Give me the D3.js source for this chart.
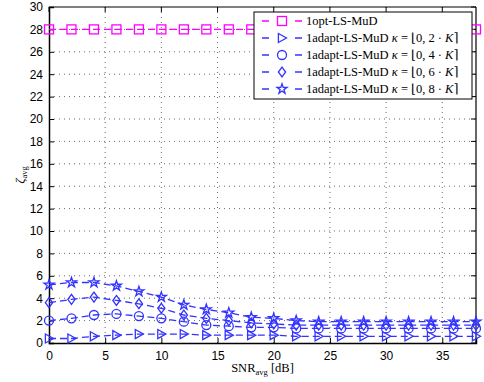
<!DOCTYPE html>
<html>
<head>
<meta charset="utf-8">
<script src="https://cdn.jsdelivr.net/npm/d3@7"></script>
<style>
  body { margin: 0; background: #fff; }
  svg text { font-family: "Liberation Sans", Arial, sans-serif; }
  .serif { font-family: "Liberation Serif", "DejaVu Serif", serif; }
</style>
</head>
<body>
<div id="chart"></div>
<script>
const snr = [0, 2, 4, 6, 8, 10, 12, 14, 16, 18, 20, 22, 24, 26, 28, 30, 32, 34, 36, 38];

const optValues = [28, 28, 28, 28, 28, 28, 28, 28, 28, 28, 28, 28, 28, 28, 28, 28, 28, 28, 28, 28];
const adapt02 = [0.4, 0.4, 0.6, 0.7, 0.8, 0.8, 0.8, 0.7, 0.7, 0.7, 0.7, 0.6, 0.6, 0.6, 0.6, 0.6, 0.6, 0.6, 0.6, 0.6];
const adapt04 = [2.0, 2.2, 2.5, 2.6, 2.4, 2.2, 1.9, 1.6, 1.5, 1.4, 1.4, 1.3, 1.3, 1.3, 1.3, 1.3, 1.3, 1.3, 1.3, 1.3];
const adapt06 = [3.6, 3.9, 4.1, 3.8, 3.5, 3.1, 2.5, 2.2, 2.0, 1.8, 1.7, 1.6, 1.6, 1.6, 1.6, 1.6, 1.6, 1.6, 1.6, 1.6];
const adapt08 = [5.2, 5.4, 5.4, 5.1, 4.6, 4.1, 3.4, 3.0, 2.7, 2.3, 2.2, 2.0, 1.9, 1.9, 1.9, 1.9, 1.9, 1.9, 1.9, 1.9];

const xTicks = [0, 5, 10, 15, 20, 25, 30, 35];
const yTicks = d3.range(0, 31, 2);

const series = [
  { name: "1opt-LS-MuD", kappa: null, values: optValues, color: "#ff00ff", marker: "square" },
  { name: "1adapt-LS-MuD", kappa: "0, 2", values: adapt02, color: "#3333ff", marker: "triangle" },
  { name: "1adapt-LS-MuD", kappa: "0, 4", values: adapt04, color: "#3333ff", marker: "circle" },
  { name: "1adapt-LS-MuD", kappa: "0, 6", values: adapt06, color: "#3333ff", marker: "diamond" },
  { name: "1adapt-LS-MuD", kappa: "0, 8", values: adapt08, color: "#3333ff", marker: "star" }
];

const W = 484, H = 382;
const margin = { top: 7, right: 8, bottom: 39, left: 49 };
const width = W - margin.left - margin.right;
const height = H - margin.top - margin.bottom;

const svg = d3.select("#chart").append("svg")
  .attr("width", W)
  .attr("height", H);

const g = svg.append("g").attr("transform", `translate(${margin.left},${margin.top})`);

const x = d3.scaleLinear().domain([0, 38]).range([0, width]);
const y = d3.scaleLinear().domain([0, 30]).range([height, 0]);

// grid
g.append("g").selectAll("line").data(xTicks.slice(1)).enter().append("line")
  .attr("x1", d => x(d)).attr("x2", d => x(d))
  .attr("y1", 0).attr("y2", height)
  .attr("stroke", "#444").attr("stroke-width", 0.8).attr("stroke-dasharray", "1,4");
g.append("g").selectAll("line").data(yTicks.slice(1, -1)).enter().append("line")
  .attr("x1", 0).attr("x2", width)
  .attr("y1", d => y(d)).attr("y2", d => y(d))
  .attr("stroke", "#444").attr("stroke-width", 0.8).attr("stroke-dasharray", "1,4");

// axes
const xAxis = g.append("g").attr("transform", `translate(0,${height})`)
  .call(d3.axisBottom(x).tickValues(xTicks).tickSize(-5).tickPadding(8));
const yAxis = g.append("g")
  .call(d3.axisLeft(y).tickValues(yTicks).tickSize(-5).tickPadding(6));
[xAxis, yAxis].forEach(a => {
  a.selectAll("text").attr("font-size", "12px").attr("fill", "#000")
    .style("font-family", "'Liberation Sans', Arial, sans-serif");
  a.select(".domain").attr("stroke", "#000").attr("stroke-width", 1.5);
  a.selectAll(".tick line").attr("stroke", "#000");
});

// top / right frame with ticks
g.append("line").attr("x1", 0).attr("x2", width).attr("y1", 0).attr("y2", 0)
  .attr("stroke", "#000").attr("stroke-width", 1.2);
g.append("line").attr("x1", width).attr("x2", width).attr("y1", 0).attr("y2", height)
  .attr("stroke", "#000").attr("stroke-width", 1.2);
g.append("g").selectAll("line").data(xTicks).enter().append("line")
  .attr("x1", d => x(d)).attr("x2", d => x(d)).attr("y1", 0).attr("y2", 5).attr("stroke", "#000");
g.append("g").selectAll("line").data(yTicks).enter().append("line")
  .attr("x1", width).attr("x2", width - 5).attr("y1", d => y(d)).attr("y2", d => y(d)).attr("stroke", "#000");

// markers
function drawMarker(sel, type, color, s) {
  const r = s / 2;
  if (type === "square") {
    sel.append("rect").attr("x", -r).attr("y", -r).attr("width", s).attr("height", s)
      .attr("fill", "none").attr("stroke", color).attr("stroke-width", 1.3);
  } else if (type === "circle") {
    sel.append("circle").attr("r", r).attr("fill", "none").attr("stroke", color).attr("stroke-width", 1.3);
  } else if (type === "triangle") {
    sel.append("path").attr("d", `M${-r * 0.8},${-r}L${r},0L${-r * 0.8},${r}Z`)
      .attr("fill", "none").attr("stroke", color).attr("stroke-width", 1.3);
  } else if (type === "diamond") {
    sel.append("path").attr("d", `M0,${-r * 1.1}L${r * 0.8},0L0,${r * 1.1}L${-r * 0.8},0Z`)
      .attr("fill", "none").attr("stroke", color).attr("stroke-width", 1.3);
  } else if (type === "star") {
    sel.append("path").attr("d", d3.symbol(d3.symbolStar, s * s * 0.38)())
      .attr("fill", "none").attr("stroke", color).attr("stroke-width", 1.3);
  }
}

const line = d3.line().x((d, i) => x(snr[i])).y(d => y(d));

series.forEach(s => {
  g.append("path").datum(s.values)
    .attr("d", line)
    .attr("fill", "none")
    .attr("stroke", s.color)
    .attr("stroke-width", 1.3)
    .attr("stroke-dasharray", "7,4");
  s.values.forEach((v, i) => {
    const m = g.append("g").attr("transform", `translate(${x(snr[i])},${y(v)})`);
    drawMarker(m, s.marker, s.color, 9);
  });
});

// axis labels
svg.append("text")
  .attr("class", "serif")
  .attr("x", margin.left + width / 2)
  .attr("y", H - 10)
  .attr("text-anchor", "middle")
  .attr("font-size", "12.5px")
  .html('SNR<tspan font-size="8.5px" dy="3">avg</tspan><tspan dy="-3"> [dB]</tspan>');

svg.append("text")
  .attr("class", "serif")
  .attr("transform", `translate(24,${margin.top + height / 2}) rotate(-90)`)
  .attr("text-anchor", "middle")
  .attr("font-size", "13px")
  .html('<tspan font-style="italic">ζ</tspan><tspan font-size="8.5px" dy="3">avg</tspan>');

// legend
const lx = 254, ly = 12, lw = 218, lh = 87;
const legend = svg.append("g");
legend.append("rect").attr("x", lx).attr("y", ly).attr("width", lw).attr("height", lh)
  .attr("fill", "#fff").attr("stroke", "#000").attr("stroke-width", 1);

series.forEach((s, i) => {
  const yy = ly + 9 + i * 17;
  const row = legend.append("g");
  row.append("line").attr("x1", 262).attr("x2", 302).attr("y1", yy).attr("y2", yy)
    .attr("stroke", s.color).attr("stroke-width", 1.3).attr("stroke-dasharray", "7,4");
  row.append("rect").attr("x", 273).attr("y", yy - 6).attr("width", 18).attr("height", 12).attr("fill", "#fff");
  const m = row.append("g").attr("transform", `translate(282,${yy})`);
  drawMarker(m, s.marker, s.color, 9);
  const t = row.append("text").attr("class", "serif")
    .attr("x", 306).attr("y", yy + 4).attr("font-size", "12.5px");
  if (s.kappa) {
    t.html(`${s.name} <tspan font-style="italic">κ</tspan> = ⌊${s.kappa} · <tspan font-style="italic">K</tspan>⌉`);
  } else {
    t.text(s.name);
  }
});
</script>
</body>
</html>
